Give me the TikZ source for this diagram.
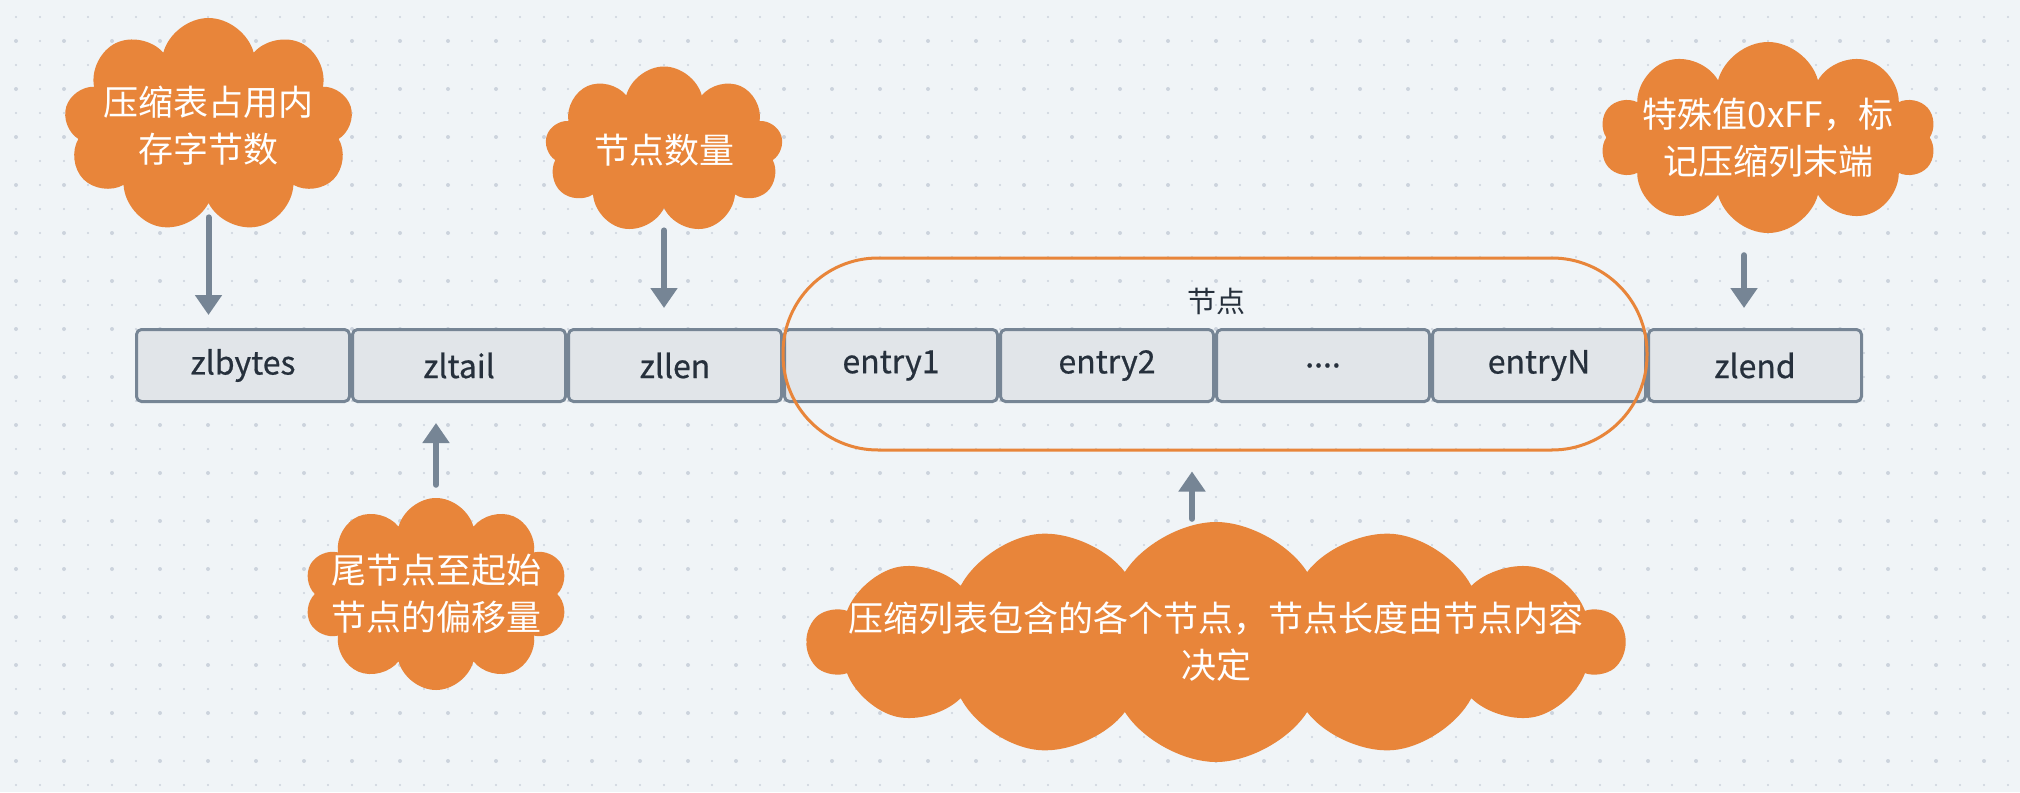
\documentclass[tikz,border=0pt]{standalone}
\usepackage{fontspec}
\setmainfont{Noto Sans CJK SC}
\newfontfamily\zlfieldfont[FakeBold=0.6]{Noto Sans CJK SC}
\usepackage{xcolor}
\definecolor{zlbg}{RGB}{240,244,247}
\definecolor{zldot}{RGB}{204,211,221}
\definecolor{zlorange}{RGB}{232,133,58}
\definecolor{zlslate}{RGB}{118,133,149}
\definecolor{zlfill}{RGB}{225,229,233}
\definecolor{zltext}{RGB}{38,48,60}
\usetikzlibrary{arrows.meta,positioning,shapes.symbols}

\begin{document}
\begin{tikzpicture}[x=1pt, y=-1pt,
  field/.style={draw=zlslate, fill=zlfill, line width=3pt, rounded corners=5pt, minimum width=213pt, minimum height=72pt, text=zltext, font=\zlfieldfont\fontsize{32}{38}\selectfont},
  puff/.style={cloud, cloud puffs=10, cloud ignores aspect, fill=zlorange, inner sep=0pt},
  puffnote/.style={align=center, text=white, font=\fontsize{35}{47}\selectfont},
  flow/.style={draw=zlslate, line width=6pt, line cap=round, -{Triangle[width=26pt,length=20pt]}}]
  % canvas with dot grid
  \fill[zlbg] (0,0) rectangle (2020,792);
  \foreach \i in {0,...,83} {
    \foreach \j in {0,...,32} {
      \fill[zldot] (16+24*\i,17+24*\j) circle (1.1pt);
    }
  }
  \foreach \i in {0,2,...,82} {
    \foreach \j in {1,3,...,31} {
      \fill[zldot] (16+24*\i,17+24*\j) circle (2pt);
    }
  }
  % ziplist fields
  \node[field] (zlbytes) at (243,365.5) {zlbytes};
  \node[field, right=0pt of zlbytes] (zltail) {zltail};
  \node[field, right=0pt of zltail] (zllen) {zllen};
  \node[field, right=0pt of zllen] (entry1) {entry1};
  \node[field, right=0pt of entry1] (entry2) {entry2};
  \node[field, right=0pt of entry2] (entrymid) {....};
  \node[field, right=0pt of entrymid] (entryN) {entryN};
  \node[field, right=0pt of entryN] (zlend) {zlend};
  % entries group
  \node[draw=zlorange, line width=3pt, rounded corners=95pt, minimum width=864pt, minimum height=192pt] (entries) at (1215,354) {};
  \node[text=zltext, font=\fontsize{29}{34}\selectfont] (entrieslbl) at (1216,301) {节点};
  % notes
  \node[puff, cloud puffs=9, minimum width=289pt, minimum height=215pt] (bytesnote) at (208.5,125.5) {};
  \node[puffnote] (bytestext) at (bytesnote) {压缩表占用内\\存字节数};
  \node[puff, cloud puffs=9, minimum width=238pt, minimum height=167pt] (lennote) at (664,150) {};
  \node[puffnote] (lentext) at (lennote) {节点数量};
  \node[puff, minimum width=336pt, minimum height=191pt] (endnote) at (1768,137.5) {};
  \node[puffnote] (endtext) at (endnote) {特殊值0xFF，标\\记压缩列末端};
  \node[puff, minimum width=264pt, minimum height=192pt] (tailnote) at (436,594) {};
  \node[puffnote] (tailtext) at (tailnote) {尾节点至起始\\节点的偏移量};
  \node[puff, cloud puffs=14, cloud puff arc=115, minimum width=816pt, minimum height=240pt] (entrynote) at (1216,642) {};
  \node[puffnote] (entrytext) at (entrynote) {压缩列表包含的各个节点，节点长度由节点内容\\决定};
  % arrows
  \draw[flow, shorten <=14pt, shorten >=13pt] (bytesnote.south) -- (bytesnote.south |- zlbytes.north);
  \draw[flow, shorten <=22pt, shorten >=20pt] (lennote.south) -- (lennote.south |- zllen.north);
  \draw[flow, shorten <=22pt, shorten >=20pt] ([xshift=-24pt]endnote.south) -- ([xshift=-24pt]endnote.south |- zlend.north);
  \draw[flow, shorten <=13pt, shorten >=20pt] (tailnote.north) -- (tailnote.north |- zltail.south);
  \draw[flow, shorten <=3pt, shorten >=20pt] ([xshift=-24pt]entrynote.north) -- ([xshift=-24pt]entrynote.north |- entries.south);
\end{tikzpicture}
\end{document}
